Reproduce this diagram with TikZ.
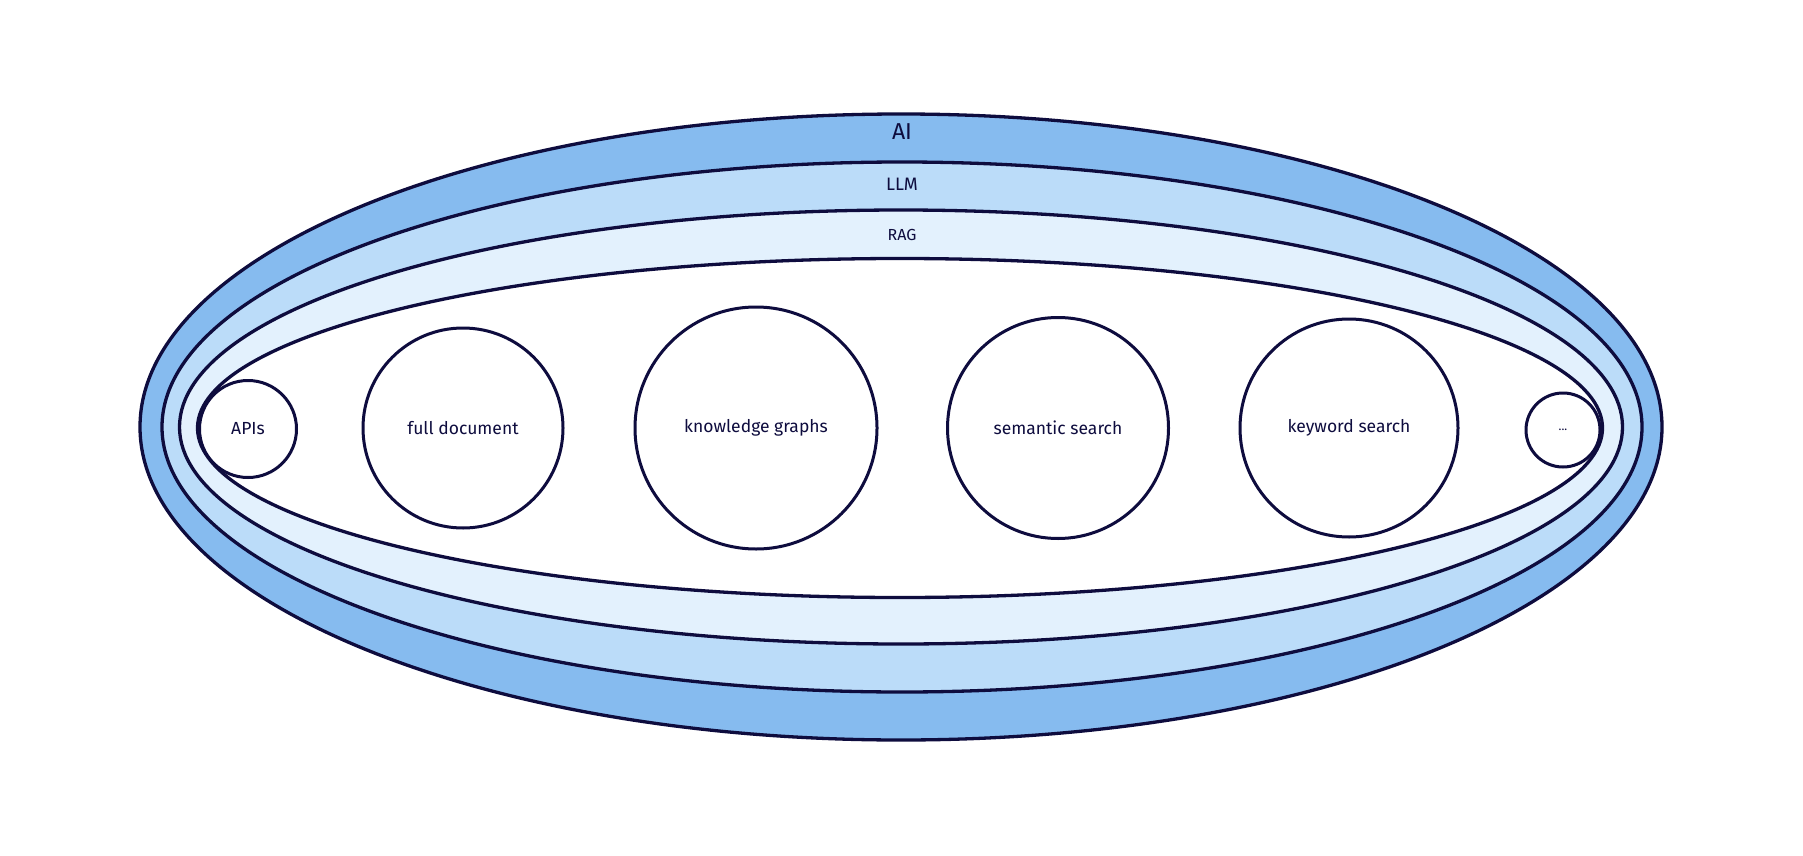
\documentclass[tikz,border=0pt]{standalone}
\usepackage{fontspec}
\setmainfont{Fira Sans}
\usetikzlibrary{shapes.geometric, positioning}
\definecolor{InkBlue}{HTML}{0E0C3E}
\definecolor{AIBlue}{HTML}{86BBEF}
\definecolor{LLMBlue}{HTML}{BBDCF9}
\definecolor{RAGBlue}{HTML}{E3F1FD}

\begin{document}
\begin{tikzpicture}[
        x=1pt, y=-1pt,
        % Estilos para las capas
        layer/.style={
                ellipse,
                draw=InkBlue,
                line width=3.3pt,
                inner sep=0pt
            },
        % Etiquetas de capa
        layerlabel/.style={
                text=InkBlue,
                inner sep=0pt
            },
        % Técnicas
        technique/.style={
                circle,
                draw=InkBlue,
                line width=3pt,
                fill=white,
                inner sep=0pt,
                text=InkBlue,
                font=\fontsize{17.5}{19}\selectfont
            }
    ]

    \useasboundingbox (0,0) rectangle (1803,856);

    % Capas
    \node[layer, fill=AIBlue, minimum width=1522pt, minimum height=626pt] (ai) at (901,427) {};
    \node[layer, fill=LLMBlue, minimum width=1480pt, minimum height=530pt] (llm) at (902,427) {};
    \node[layer, fill=RAGBlue, minimum width=1443pt, minimum height=434pt] (rag) at (901,427) {};
    \node[layer, fill=white, minimum width=1405pt, minimum height=339pt] (inner) at (900,428) {};

    % Etiquetas
    \node[layerlabel, font=\fontsize{23}{25}\selectfont] (ailabel) at (902,132) {AI};
    \node[layerlabel, font=\fontsize{18}{20}\selectfont] (llmlabel) at (902,184) {LLM};
    \node[layerlabel, font=\fontsize{16}{18}\selectfont] (raglabel) at (902,235) {RAG};

    % Técnicas de recuperación
    \node[technique, minimum size=97pt] (apis) at (248,429) {APIs};
    \node[technique, minimum size=200pt] (fulldoc) at (463,428) {full document};
    \node[technique, minimum size=242pt] (kgraphs) at (756,428) {knowledge graphs};
    \node[technique, minimum size=221pt] (semsearch) at (1058,428) {semantic search};
    \node[technique, minimum size=218pt] (kwsearch) at (1349,428) {keyword search};
    \node[technique, minimum size=74pt, font=\fontsize{12}{14}\selectfont] (more) at (1563,430) {...};

\end{tikzpicture}
\end{document}
